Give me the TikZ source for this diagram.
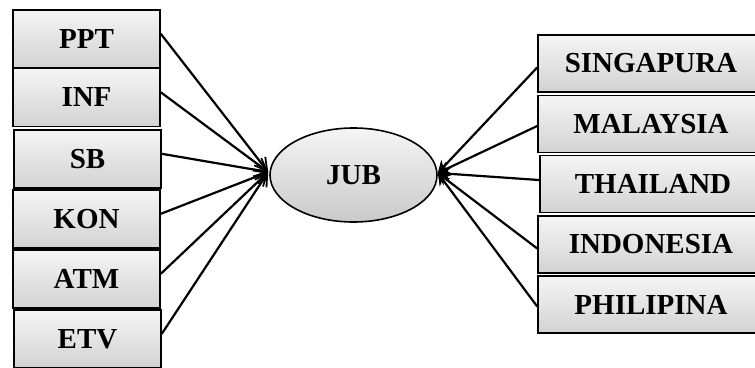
\documentclass[tikz,border=0pt]{standalone}
\usepackage{fontspec}
\setmainfont{Liberation Serif}
\usetikzlibrary{arrows.meta,shapes.geometric}
\tikzset{
  varbox/.style={draw=black, line width=1.6pt, top color=gray!8, bottom color=gray!35,
    minimum width=147pt, minimum height=58pt, inner sep=0pt,
    font=\fontsize{29}{30}\selectfont\bfseries},
  cbox/.style={varbox, minimum width=226pt, minimum height=57pt},
  jubnode/.style={draw=black, line width=1.6pt, ellipse, top color=gray!8, bottom color=gray!42,
    minimum width=167pt, minimum height=94pt, inner sep=0pt,
    font=\fontsize{29}{30}\selectfont\bfseries},
  inarrow/.style={line width=2.2pt, -{Straight Barb[length=12pt,width=14pt,line width=1.8pt]}},
  outarrow/.style={line width=2.2pt, -{Stealth[length=12pt,width=13pt]}}
}
\begin{document}
\begin{tikzpicture}[x=1pt,y=-1pt]
\clip (0,0) rectangle (755,367);
\useasboundingbox (0,0) rectangle (755,367);
\node[varbox] (ppt) at (86.5,39) {PPT};
\node[varbox] (inf) at (86.5,97.5) {INF};
\node[varbox] (sb) at (87.5,159) {SB};
\node[varbox] (kon) at (86.5,219) {KON};
\node[varbox] (atm) at (86.5,279) {ATM};
\node[varbox] (etv) at (87.5,339) {ETV};
\node[jubnode] (jub) at (353.5,175) {JUB};
\node[cbox] (sgp) at (651,63.5) {SINGAPURA};
\node[cbox] (mys) at (651,124) {MALAYSIA};
\node[cbox] (tha) at (653,184) {THAILAND};
\node[cbox] (idn) at (651,244.5) {INDONESIA};
\node[cbox] (phl) at (651,304.5) {PHILIPINA};
\foreach \n in {ppt,inf,sb,kon,atm,etv}
  \draw[inarrow] (\n.4) -- ([xshift=-1pt,yshift=3pt]jub.west);
\foreach \n/\a in {sgp/182,mys/181,tha/178,idn/182,phl/181}
  \draw[outarrow] (\n.\a) -- ([yshift=2pt]jub.east);
\end{tikzpicture}
\end{document}
